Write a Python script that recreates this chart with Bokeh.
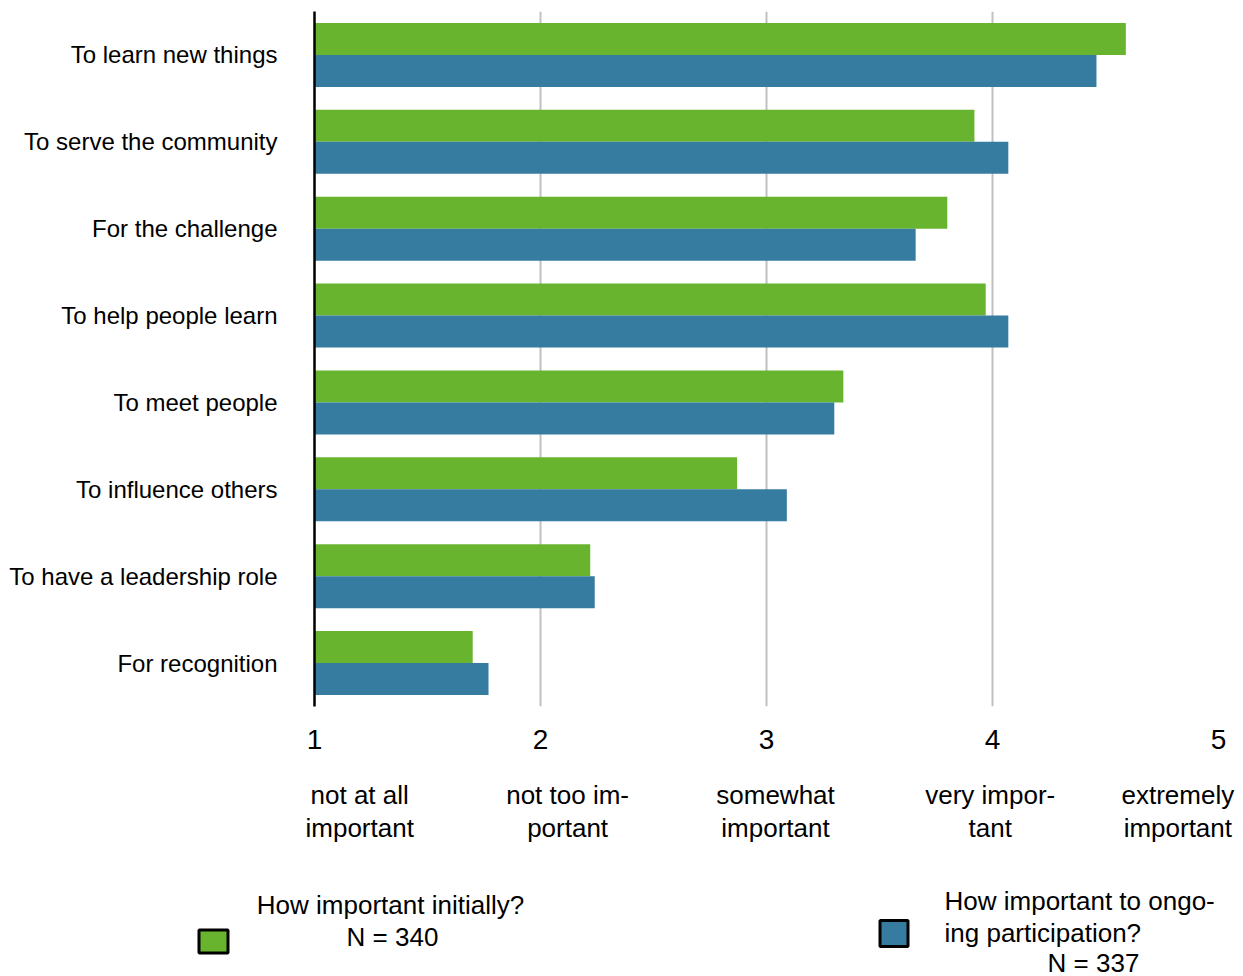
from bokeh.plotting import figure
from bokeh.layouts import column
from bokeh.models import (ColumnDataSource, FactorRange, Range1d, FixedTicker, LinearAxis)
from bokeh.core.properties import value
from bokeh.transform import dodge
from bokeh.embed import file_html
from bokeh.resources import INLINE

# ---- data ----
categories = ["To learn new things", "To serve the community", "For the challenge",
              "To help people learn", "To meet people", "To influence others",
              "To have a leadership role", "For recognition"]
initial = [4.59, 3.92, 3.80, 3.97, 3.34, 2.87, 2.22, 1.70]
ongoing = [4.46, 4.07, 3.66, 4.07, 3.30, 3.09, 2.24, 1.77]
scale_ticks = [1, 2, 3, 4, 5]
scale_names = ["not at all\nimportant", "not too im-\nportant", "somewhat\nimportant",
               "very impor-\ntant", "extremely\nimportant"]
scale_name_pos = [1.2, 2.12, 3.04, 3.99, 4.82]
legend_lines_initial = ["How important initially?", "N = 340"]
legend_lines_ongoing = ["How important to ongo-", "ing participation?", "N = 337"]

GREEN = "#69b42f"
BLUE = "#357ca0"
FONT = "Liberation Sans"

src = ColumnDataSource(dict(cat=categories, initial=initial, ongoing=ongoing))

p = figure(width=1240, height=860, frame_width=904, frame_height=695,
           output_backend="svg", toolbar_location=None,
           y_range=FactorRange(factors=list(reversed(categories))),
           x_range=Range1d(1, 5),
           min_border_left=314, min_border_right=22, min_border_top=11, min_border_bottom=154,
           x_axis_location=None)
p.outline_line_color = None
p.background_fill_color = "white"
p.frame_align = False

bar_h = 0.368
p.hbar(y=dodge("cat", bar_h / 2, range=p.y_range), left=1, right="initial", height=bar_h,
       source=src, fill_color=GREEN, line_color=None)
p.hbar(y=dodge("cat", -bar_h / 2, range=p.y_range), left=1, right="ongoing", height=bar_h,
       source=src, fill_color=BLUE, line_color=None)

# grid
p.ygrid.grid_line_color = None
p.xgrid.ticker = FixedTicker(ticks=scale_ticks)
p.xgrid.grid_line_color = "#c0c0c0"
p.xgrid.grid_line_width = 2

# y axis
ya = p.yaxis[0]
ya.axis_line_color = "black"
ya.axis_line_width = 2.5
ya.major_tick_line_color = None
ya.minor_tick_line_color = None
ya.major_label_text_font = FONT
ya.major_label_text_font_size = "24px"
ya.major_label_text_color = "black"
ya.major_label_standoff = 31

# x axis: numbers
xa = LinearAxis(ticker=FixedTicker(ticks=scale_ticks))
xa.axis_line_color = None
xa.major_tick_line_color = None
xa.minor_tick_line_color = None
xa.major_label_text_font = FONT
xa.major_label_text_font_size = "28px"
xa.major_label_text_color = "black"
xa.major_label_standoff = 17
p.add_layout(xa, "below")

# x axis: descriptive names
xb = LinearAxis(ticker=FixedTicker(ticks=scale_name_pos),
                major_label_overrides={v: n for v, n in zip(scale_name_pos, scale_names)})
xb.axis_line_color = None
xb.major_tick_line_color = None
xb.minor_tick_line_color = None
xb.major_label_text_font = FONT
xb.major_label_text_font_size = "26px"
xb.major_label_text_color = "black"
xb.major_label_text_line_height = 1.1
xb.major_label_standoff = 22
p.add_layout(xb, "below")

# ---- legend panel (page-pixel coordinates) ----
LH = 116
lg = figure(width=1240, height=LH, output_backend="svg", toolbar_location=None,
            x_range=Range1d(0, 1240), y_range=Range1d(860 + LH, 860),
            min_border_left=0, min_border_right=0, min_border_top=0, min_border_bottom=0,
            x_axis_location=None, y_axis_location=None)
lg.outline_line_color = None
lg.xgrid.visible = False
lg.ygrid.visible = False
lg.frame_align = False

lg.rect(x=[213, 893.5], y=[941, 933], width=[29, 28], height=[23, 26],
        fill_color=[GREEN, BLUE], line_color="black", line_width=3)

txt = dict(text_font=value(FONT), text_font_size="26px", text_color="black",
           text_baseline="middle")
lg.text(x=[390, 392], y=[904, 936], text=legend_lines_initial, text_align="center", **txt)
lg.text(x=[944, 944], y=[900, 932], text=legend_lines_ongoing[:2], text_align="left", **txt)
lg.text(x=[1093], y=[962], text=legend_lines_ongoing[2:], text_align="center", **txt)

layout = column(p, lg, spacing=0)
open("out.html", "w").write(file_html(layout, INLINE))
